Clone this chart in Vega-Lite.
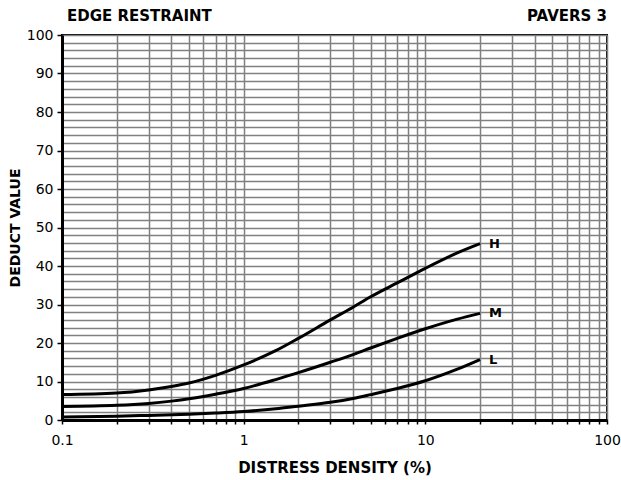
{
  "$schema": "https://vega.github.io/schema/vega-lite/v6.json",
  "width": 545,
  "height": 385,
  "autosize": {"type": "none"},
  "padding": {"left": 62, "top": 35, "right": 14, "bottom": 60},
  "background": "white",
  "config": {
    "font": "DejaVu Sans",
    "view": {"stroke": "black", "strokeWidth": 2},
    "axis": {
      "titleFontWeight": "bold",
      "titleColor": "black",
      "labelFontSize": 14,
      "labelColor": "black",
      "labelOverlap": false,
      "grid": true,
      "gridColor": "#808080",
      "gridWidth": 1.5,
      "gridOpacity": 1,
      "tickColor": "black",
      "tickWidth": 1.5,
      "domainColor": "black",
      "domainWidth": 3
    },
    "axisX": {
      "titleFontSize": 15,
      "titlePadding": 13,
      "values": [0.1, 0.2, 0.3, 0.4, 0.5, 0.6, 0.7, 0.8, 0.9, 1, 2, 3, 4, 5, 6, 7, 8, 9, 10, 20, 30, 40, 50, 60, 70, 80, 90, 100],
      "labelExpr": "datum.value == 0.1 ? '0.1' : datum.value == 1 ? '1' : datum.value == 10 ? '10' : datum.value == 100 ? '100' : ''",
      "labelPadding": 9,
      "labelFlush": false,
      "tickSize": 4
    },
    "axisY": {
      "titleFontSize": 14,
      "titlePadding": 4,
      "values": [0, 2, 4, 6, 8, 10, 12, 14, 16, 18, 20, 22, 24, 26, 28, 30, 32, 34, 36, 38, 40, 42, 44, 46, 48, 50, 52, 54, 56, 58, 60, 62, 64, 66, 68, 70, 72, 74, 76, 78, 80, 82, 84, 86, 88, 90, 92, 94, 96, 98, 100],
      "labelExpr": "datum.value % 10 == 0 ? datum.label : ''",
      "labelPadding": 4,
      "tickSize": {"condition": {"test": "datum.value % 10 == 0", "value": 5}, "value": 0}
    }
  },
  "layer": [
    {
      "data": {
        "values": [
          {"density": 0.1, "dv": 6.6, "level": "H"},
          {"density": 0.2, "dv": 7.0, "level": "H"},
          {"density": 0.3, "dv": 7.8, "level": "H"},
          {"density": 0.4, "dv": 8.7, "level": "H"},
          {"density": 0.5, "dv": 9.6, "level": "H"},
          {"density": 0.7, "dv": 11.6, "level": "H"},
          {"density": 1, "dv": 14.3, "level": "H"},
          {"density": 1.5, "dv": 18.0, "level": "H"},
          {"density": 2, "dv": 21.2, "level": "H"},
          {"density": 3, "dv": 26.0, "level": "H"},
          {"density": 4, "dv": 29.3, "level": "H"},
          {"density": 5, "dv": 32.0, "level": "H"},
          {"density": 7, "dv": 35.6, "level": "H"},
          {"density": 10, "dv": 39.4, "level": "H"},
          {"density": 15, "dv": 43.4, "level": "H"},
          {"density": 20, "dv": 45.8, "level": "H"},
          {"density": 0.1, "dv": 3.5, "level": "M"},
          {"density": 0.2, "dv": 3.8, "level": "M"},
          {"density": 0.3, "dv": 4.3, "level": "M"},
          {"density": 0.4, "dv": 4.9, "level": "M"},
          {"density": 0.5, "dv": 5.5, "level": "M"},
          {"density": 0.7, "dv": 6.7, "level": "M"},
          {"density": 1, "dv": 8.2, "level": "M"},
          {"density": 1.5, "dv": 10.5, "level": "M"},
          {"density": 2, "dv": 12.3, "level": "M"},
          {"density": 3, "dv": 15.0, "level": "M"},
          {"density": 4, "dv": 17.0, "level": "M"},
          {"density": 5, "dv": 18.7, "level": "M"},
          {"density": 7, "dv": 21.2, "level": "M"},
          {"density": 10, "dv": 23.7, "level": "M"},
          {"density": 15, "dv": 26.2, "level": "M"},
          {"density": 20, "dv": 27.7, "level": "M"},
          {"density": 0.1, "dv": 0.8, "level": "L"},
          {"density": 0.2, "dv": 1.0, "level": "L"},
          {"density": 0.3, "dv": 1.2, "level": "L"},
          {"density": 0.5, "dv": 1.5, "level": "L"},
          {"density": 0.7, "dv": 1.8, "level": "L"},
          {"density": 1, "dv": 2.2, "level": "L"},
          {"density": 1.5, "dv": 2.9, "level": "L"},
          {"density": 2, "dv": 3.6, "level": "L"},
          {"density": 3, "dv": 4.6, "level": "L"},
          {"density": 4, "dv": 5.6, "level": "L"},
          {"density": 5, "dv": 6.6, "level": "L"},
          {"density": 7, "dv": 8.2, "level": "L"},
          {"density": 10, "dv": 10.2, "level": "L"},
          {"density": 15, "dv": 13.2, "level": "L"},
          {"density": 20, "dv": 15.7, "level": "L"}
        ]
      },
      "encoding": {
        "x": {
          "field": "density",
          "type": "quantitative",
          "scale": {"type": "log", "domain": [0.1, 100], "nice": false},
          "axis": {"title": "DISTRESS DENSITY (%)"}
        },
        "y": {
          "field": "dv",
          "type": "quantitative",
          "scale": {"domain": [0, 100], "nice": false},
          "axis": {
            "title": "DEDUCT VALUE",
            "values": [0, 2, 4, 6, 8, 10, 12, 14, 16, 18, 20, 22, 24, 26, 28, 30, 32, 34, 36, 38, 40, 42, 44, 46, 48, 50, 52, 54, 56, 58, 60, 62, 64, 66, 68, 70, 72, 74, 76, 78, 80, 82, 84, 86, 88, 90, 92, 94, 96, 98, 100]
          }
        }
      },
      "layer": [
        {
          "mark": {"type": "line", "color": "black", "strokeWidth": 3, "interpolate": "monotone"},
          "encoding": {"detail": {"field": "level"}}
        },
        {
          "transform": [{"filter": "datum.density == 20"}],
          "mark": {"type": "text", "align": "left", "dx": 9, "fontSize": 13, "fontWeight": "bold", "color": "black"},
          "encoding": {"text": {"field": "level"}}
        }
      ]
    },
    {
      "data": {"values": [{"label": "EDGE RESTRAINT"}]},
      "mark": {"type": "text", "align": "left", "baseline": "alphabetic", "dy": -14, "dx": 5, "fontSize": 15, "fontWeight": "bold", "color": "black"},
      "encoding": {
        "x": {"datum": 0.1, "type": "quantitative"},
        "y": {"datum": 100, "type": "quantitative", "axis": {"values": [0, 2, 4, 6, 8, 10, 12, 14, 16, 18, 20, 22, 24, 26, 28, 30, 32, 34, 36, 38, 40, 42, 44, 46, 48, 50, 52, 54, 56, 58, 60, 62, 64, 66, 68, 70, 72, 74, 76, 78, 80, 82, 84, 86, 88, 90, 92, 94, 96, 98, 100]}},
        "text": {"field": "label"}
      }
    },
    {
      "data": {"values": [{"label": "PAVERS 3"}]},
      "mark": {"type": "text", "align": "right", "baseline": "alphabetic", "dy": -14, "dx": 0, "fontSize": 15, "fontWeight": "bold", "color": "black"},
      "encoding": {
        "x": {"datum": 100, "type": "quantitative"},
        "y": {"datum": 100, "type": "quantitative", "axis": {"values": [0, 2, 4, 6, 8, 10, 12, 14, 16, 18, 20, 22, 24, 26, 28, 30, 32, 34, 36, 38, 40, 42, 44, 46, 48, 50, 52, 54, 56, 58, 60, 62, 64, 66, 68, 70, 72, 74, 76, 78, 80, 82, 84, 86, 88, 90, 92, 94, 96, 98, 100]}},
        "text": {"field": "label"}
      }
    }
  ]
}
